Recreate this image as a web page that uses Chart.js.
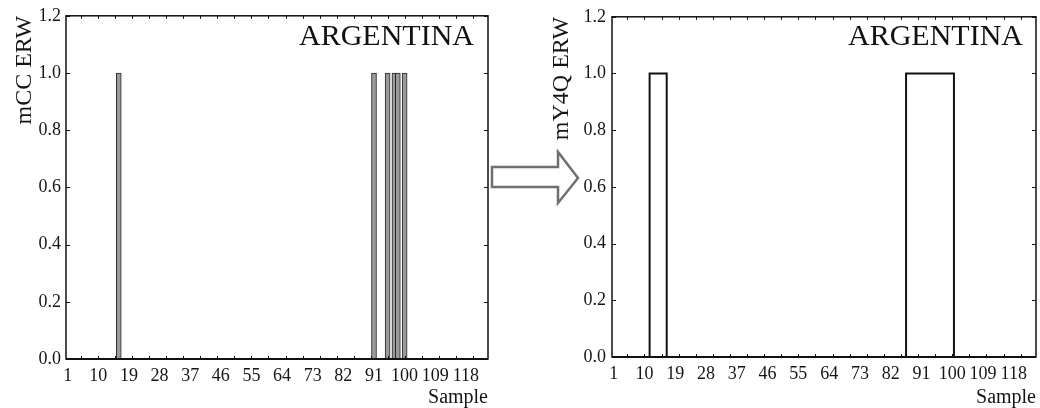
<!DOCTYPE html>
<html>
<head>
<meta charset="utf-8">
<script src="https://cdn.jsdelivr.net/npm/chart.js@4.4.1/dist/chart.umd.min.js"></script>
<style>
  html, body { margin: 0; padding: 0; background: #fff; }
  #wrap { position: relative; width: 1040px; height: 408px; overflow: hidden; background: #fff; }
  canvas { position: absolute; top: 0; }
  #left { left: 0; }
  #right { left: 520px; }
  svg { position: absolute; left: 0; top: 0; pointer-events: none; }
</style>
</head>
<body>
<div id="wrap">
  <canvas id="left" width="494" height="408"></canvas>
  <canvas id="right" width="520" height="408"></canvas>
  <svg width="1040" height="408">
    <polygon points="492,167 558,167 558,152 578,178 558,203 558,187 492,187"
             fill="#fff" stroke="#707070" stroke-width="2.5" stroke-linejoin="miter"/>
  </svg>
</div>
<script>
// Sample axis: labelled every 9th sample
const sampleTicks = [1, 10, 19, 28, 37, 46, 55, 64, 73, 82, 91, 100, 109, 118];
const sampleRange = [0.5, 124.5];
// ERW indicator axis
const erwTicks = [0, 0.2, 0.4, 0.6, 0.8, 1.0, 1.2];
const erwRange = [0, 1.2];

// mCC ERW signal: samples flagged as ERW
const mccSamples = [16, 91, 95, 97, 98, 100];
const mccErw     = [1, 1, 1, 1, 1, 1];

// mY4Q ERW signal around its two ERW episodes (0 = no ERW)
const my4qSamples = [11, 12, 13, 14, 15, 16, 17,
                     86, 87, 88, 89, 90, 91, 92, 93, 94, 95, 96, 97, 98, 99, 100, 101];
const my4qErw     = [0, 1, 1, 1, 1, 1, 0,
                     0, 1, 1, 1, 1, 1, 1, 1, 1, 1, 1, 1, 1, 1, 1, 0];

const region = 'ARGENTINA';

Chart.defaults.font.family = '"Liberation Serif", "Times New Roman", serif';
Chart.defaults.color = '#151515';
Chart.defaults.animation = false;

function points(xs, ys) {
  return xs.map((s, i) => ({ x: s, y: ys[i] }));
}

// Box frame, inward tick marks and the region caption
const framePlugin = {
  id: 'frame',
  afterDatasetsDraw(chart, args, opts) {
    const { ctx, chartArea: a, scales: { x, y } } = chart;
    ctx.save();
    ctx.strokeStyle = '#111';
    ctx.lineWidth = 1;
    ctx.beginPath();
    erwTicks.forEach(v => {
      const py = Math.round(y.getPixelForValue(v)) + 0.5;
      ctx.moveTo(a.left, py); ctx.lineTo(a.left + 4, py);
      ctx.moveTo(a.right, py); ctx.lineTo(a.right - 4, py);
    });
    for (let s = 5; s < sampleRange[1]; s += 5) {
      const px = Math.round(x.getPixelForValue(s)) + 0.5;
      ctx.moveTo(px, a.bottom); ctx.lineTo(px, a.bottom - 3);
      ctx.moveTo(px, a.top); ctx.lineTo(px, a.top + 3);
    }
    ctx.stroke();
    ctx.lineWidth = 1.5;
    ctx.strokeRect(a.left, a.top, a.right - a.left, a.bottom - a.top);
    ctx.lineWidth = 2;
    ctx.beginPath();
    ctx.moveTo(a.left, a.bottom); ctx.lineTo(a.right, a.bottom);
    ctx.stroke();

    ctx.font = '30px "Liberation Serif", serif';
    ctx.textAlign = 'right';
    ctx.textBaseline = 'alphabetic';
    ctx.fillStyle = '#111';
    ctx.fillText(opts.text, a.right - opts.inset, opts.baseline);
    ctx.restore();
  }
};

function panel(id, p) {
  return new Chart(document.getElementById(id), {
    type: p.type,
    data: { datasets: [p.dataset] },
    options: {
      responsive: false,
      devicePixelRatio: 1,
      layout: { padding: { top: p.top, right: p.right, bottom: 0, left: 0 } },
      plugins: {
        legend: { display: false },
        tooltip: { enabled: false },
        frame: { text: region, inset: p.inset, baseline: 45 }
      },
      scales: {
        x: {
          type: 'linear',
          offset: false,
          min: sampleRange[0], max: sampleRange[1],
          afterBuildTicks: s => { s.ticks = sampleTicks.map(v => ({ value: v })); },
          afterFit: s => { s.height = p.xHeight; },
          grid: { display: false, drawTicks: false },
          border: { display: false },
          ticks: { autoSkip: false, maxRotation: 0, padding: 6, font: { size: 18 },
                   callback: v => String(v) },
          title: { display: true, text: 'Sample', align: 'end',
                   font: { size: 20 }, padding: { top: 0, bottom: -2 } }
        },
        y: {
          min: erwRange[0], max: erwRange[1],
          afterBuildTicks: s => { s.ticks = erwTicks.map(v => ({ value: v })); },
          afterFit: s => { s.width = p.yWidth; },
          grid: { display: false, drawTicks: false },
          border: { display: false },
          ticks: { padding: p.yPad, font: { size: 18 },
                   callback: v => Number(v).toFixed(1) },
          title: { display: true, text: p.yTitle, align: 'end',
                   font: { size: 24 }, padding: { top: p.titlePad, bottom: 0 } }
        }
      }
    },
    plugins: [framePlugin]
  });
}

panel('left', {
  type: 'bar',
  yTitle: 'mCC ERW', yWidth: 66, yPad: 5, titlePad: 10,
  top: 15, right: 6, xHeight: 49, inset: 14,
  dataset: {
    data: points(mccSamples, mccErw),
    backgroundColor: '#9a9a9a',
    borderColor: '#262626',
    borderWidth: 1,
    barThickness: 5
  }
});

// Each flagged sample occupies its full sample width, so runs read as blocks
panel('right', {
  type: 'line',
  yTitle: 'mY4Q ERW', yWidth: 92, yPad: 6, titlePad: 27,
  top: 13, right: 4, xHeight: 51, inset: 13,
  dataset: {
    data: points(my4qSamples, my4qErw),
    stepped: 'middle',
    borderColor: '#111111',
    borderWidth: 2,
    pointRadius: 0,
    fill: false,
    spanGaps: true
  }
});
</script>
</body>
</html>
